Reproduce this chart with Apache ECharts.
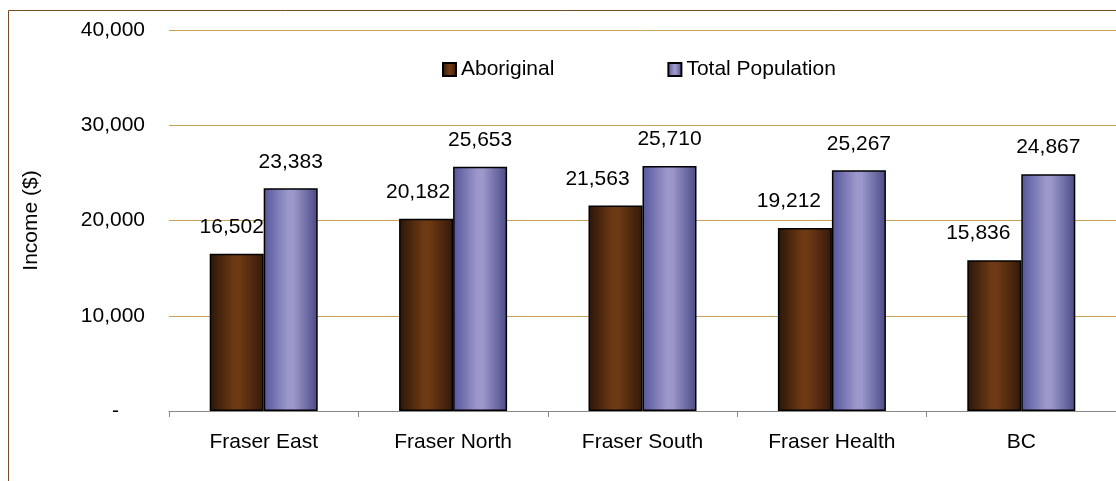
<!DOCTYPE html>
<html>
<head>
<meta charset="utf-8">
<script src="https://cdn.jsdelivr.net/npm/echarts@6/dist/echarts.min.js"></script>
<style>
  html, body { margin: 0; padding: 0; background: #fff; }
  #chart { width: 1116px; height: 481px; }
</style>
</head>
<body>
<div id="chart"></div>
<script>
// regions and income values
var regions = ["Fraser East", "Fraser North", "Fraser South", "Fraser Health", "BC"];
var aboriginal = [16502, 20182, 21563, 19212, 15836];
var totalPopulation = [23383, 25653, 25710, 25267, 24867];
var yTicks = [0, 10000, 20000, 30000, 40000];
// labels of the first series sit a bit left of the bar in the original
var aboriginalLabelShift = [-5, -8, -18, -16, -16];

(function () {
  var myChart = echarts.init(document.getElementById("chart"));
  var font = "Liberation Sans, Arial, sans-serif";

  function barGrad(edge, mid, edge2) {
    return new echarts.graphic.LinearGradient(0, 0, 1, 0, [
      { offset: 0, color: edge },
      { offset: 0.45, color: mid },
      { offset: 0.55, color: mid },
      { offset: 1, color: edge2 }
    ]);
  }

  var option = {
    animation: false,
    textStyle: { fontFamily: font },
    graphic: [{
      type: "rect",
      shape: { x: 8.5, y: 10.5, width: 2000, height: 2000 },
      style: { fill: "none", stroke: "#7a4a22", lineWidth: 1 },
      silent: true
    }],
    legend: {
      left: 437,
      top: 54,
      icon: "rect",
      itemWidth: 13,
      itemHeight: 13,
      itemGap: 113,
      textStyle: { fontSize: 21, color: "#000", fontFamily: font },
      data: ["Aboriginal", "Total Population"]
    },
    grid: { left: 169, right: -3, top: 30, bottom: 70 },
    xAxis: {
      type: "category",
      data: regions,
      axisLine: { lineStyle: { color: "#888", width: 1 } },
      axisTick: { show: true, length: 6, lineStyle: { color: "#888" } },
      axisLabel: { color: "#000", fontSize: 21, margin: 21, fontFamily: font }
    },
    yAxis: {
      type: "value",
      min: yTicks[0],
      max: yTicks[yTicks.length - 1],
      interval: yTicks[1] - yTicks[0],
      name: "Income ($)",
      nameLocation: "middle",
      nameGap: 127,
      nameRotate: 90,
      nameTextStyle: { fontSize: 21, color: "#000", fontFamily: font },
      axisLine: { show: false },
      axisTick: { show: false },
      splitLine: { lineStyle: { color: "#c9a353", width: 1 } },
      axisLabel: {
        color: "#000",
        fontSize: 21,
        margin: 24,
        fontFamily: font,
        formatter: function (v) {
          if (v === 0) return "{dash|-}";
          return v.toLocaleString("en-US");
        },
        rich: {
          dash: { fontSize: 21, color: "#000", padding: [0, 26, 0, 0], fontFamily: font }
        }
      }
    },
    series: [
      {
        name: "Aboriginal",
        type: "bar",
        barWidth: 54,
        barGap: "0%",
        itemStyle: {
          color: barGrad("#2a1608", "#6e3a14", "#35190a"),
          borderColor: "#000",
          borderWidth: 1.5
        },
        label: {
          show: true,
          position: "top",
          distance: 16,
          fontSize: 21,
          color: "#000",
          fontFamily: font,
          formatter: function (p) { return p.value.toLocaleString("en-US"); }
        },
        data: aboriginal.map(function (v, i) {
          return { value: v, label: { offset: [aboriginalLabelShift[i], 0] } };
        })
      },
      {
        name: "Total Population",
        type: "bar",
        barWidth: 54,
        itemStyle: {
          color: barGrad("#55559a", "#9c98cc", "#4a4a86"),
          borderColor: "#000",
          borderWidth: 1.5
        },
        label: {
          show: true,
          position: "top",
          distance: 16,
          fontSize: 21,
          color: "#000",
          fontFamily: font,
          formatter: function (p) { return p.value.toLocaleString("en-US"); }
        },
        data: totalPopulation
      }
    ]
  };

  myChart.setOption(option);
  window.addEventListener("resize", function () {
    myChart.resize();
  });
})();
</script>
</body>
</html>
